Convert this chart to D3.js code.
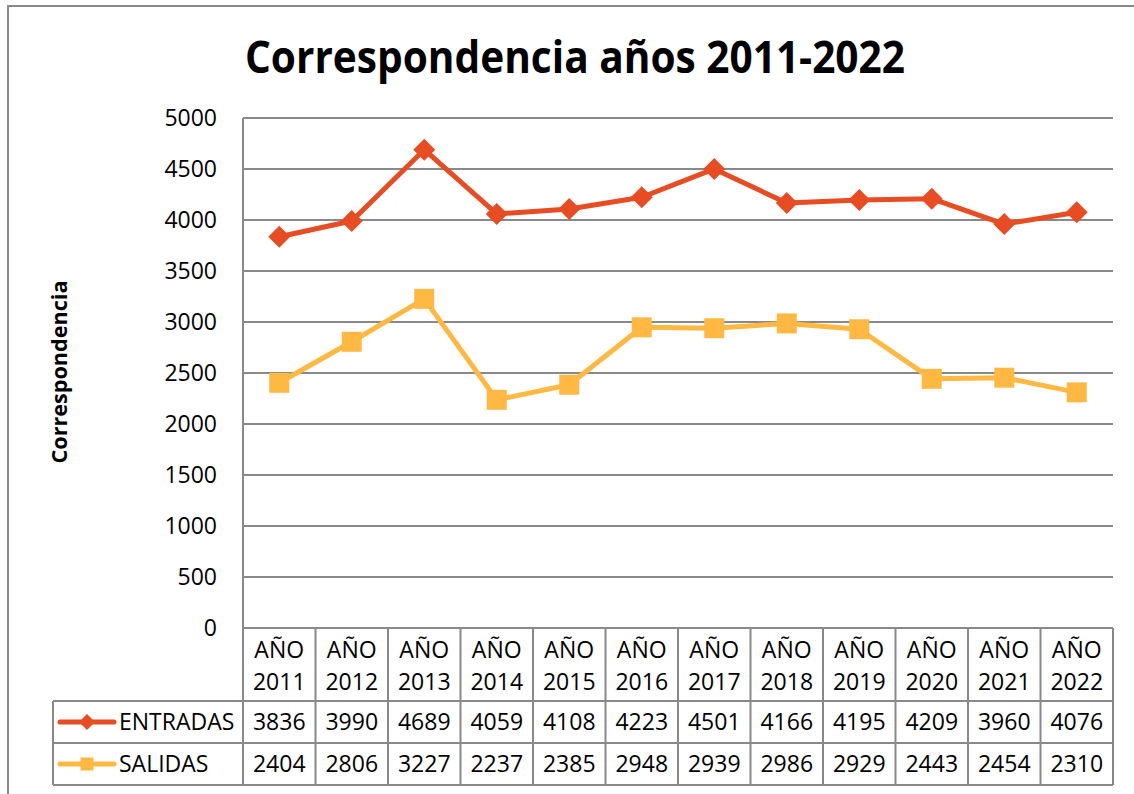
<!doctype html>
<html lang="es">
<head>
  <meta charset="utf-8">
  <style>
    body { margin: 0; background: #fff; }
    svg text { font-family: "Open Sans", "Noto Sans", sans-serif; fill: #000; }
  </style>
</head>
<body>
  <script src="https://d3js.org/d3.v7.min.js"></script>
  <div id="chart"></div>
  <script>
    // data
    var years = ["2011", "2012", "2013", "2014", "2015", "2016", "2017", "2018", "2019", "2020", "2021", "2022"];
    var entradas = [3836, 3990, 4689, 4059, 4108, 4223, 4501, 4166, 4195, 4209, 3960, 4076];
    var salidas = [2404, 2806, 3227, 2237, 2385, 2948, 2939, 2986, 2929, 2443, 2454, 2310];
    var yTicks = [0, 500, 1000, 1500, 2000, 2500, 3000, 3500, 4000, 4500, 5000];

    var series = [
      { name: "ENTRADAS", values: entradas, color: "#E84C22", marker: "diamond" },
      { name: "SALIDAS", values: salidas, color: "#FFB942", marker: "square" }
    ];

    var width = 1134, height = 794;
    var plotLeft = 243, plotRight = 1113, plotTop = 118, plotBottom = 628;
    var headerBottom = 701, rowH = 42, legendLeft = 53;
    var gridColor = "#898989";
    var fontSize = "23px";

    var svg = d3.select("#chart").append("svg")
      .attr("width", width)
      .attr("height", height);

    // outer chart border
    svg.append("rect")
      .attr("x", 8).attr("y", 6)
      .attr("width", 1140).attr("height", 800)
      .attr("fill", "none")
      .attr("stroke", gridColor)
      .attr("stroke-width", 2);

    var x = d3.scaleBand().domain(years).range([plotLeft, plotRight]);
    var y = d3.scaleLinear().domain([0, 5000]).range([plotBottom, plotTop]);

    // title
    svg.append("text")
      .attr("x", 575).attr("y", 73)
      .attr("text-anchor", "middle")
      .attr("textLength", 660)
      .attr("lengthAdjust", "spacingAndGlyphs")
      .style("font-size", "45px")
      .style("font-weight", "bold")
      .text("Correspondencia años 2011-2022");

    // y axis title
    svg.append("text")
      .attr("transform", "translate(67," + 372 + ") rotate(-90)")
      .attr("text-anchor", "middle")
      .attr("textLength", 183)
      .attr("lengthAdjust", "spacingAndGlyphs")
      .style("font-size", "21px")
      .style("font-weight", "bold")
      .text("Correspondencia");

    // gridlines
    svg.append("g").selectAll("line").data(yTicks).enter()
      .append("line")
      .attr("x1", plotLeft).attr("x2", plotRight)
      .attr("y1", d => y(d)).attr("y2", d => y(d))
      .attr("stroke", gridColor).attr("stroke-width", 2);

    // y tick labels
    svg.append("g").selectAll("text").data(yTicks).enter()
      .append("text")
      .attr("x", 217).attr("y", d => y(d) + 8)
      .attr("text-anchor", "end")
      .style("font-size", fontSize)
      .text(d => d);

    // data table grid
    var tableBottom = headerBottom + rowH * 2;
    var grid = svg.append("g").attr("stroke", gridColor).attr("stroke-width", 2);
    grid.append("line").attr("x1", plotLeft).attr("x2", plotLeft)
      .attr("y1", plotTop).attr("y2", tableBottom);
    grid.selectAll(".col").data(years).enter()
      .append("line")
      .attr("x1", d => x(d) + x.bandwidth()).attr("x2", d => x(d) + x.bandwidth())
      .attr("y1", plotBottom).attr("y2", tableBottom);
    [0, 1, 2].forEach(function (i) {
      grid.append("line")
        .attr("x1", legendLeft).attr("x2", plotRight)
        .attr("y1", headerBottom + rowH * i).attr("y2", headerBottom + rowH * i);
    });
    grid.append("line").attr("x1", legendLeft).attr("x2", legendLeft)
      .attr("y1", headerBottom).attr("y2", tableBottom);

    // category header
    var head = svg.append("g").selectAll("g").data(years).enter().append("g");
    head.append("text")
      .attr("x", d => x(d) + x.bandwidth() / 2).attr("y", 658)
      .attr("text-anchor", "middle").style("font-size", fontSize)
      .text("AÑO");
    head.append("text")
      .attr("x", d => x(d) + x.bandwidth() / 2).attr("y", 690)
      .attr("text-anchor", "middle").style("font-size", fontSize)
      .text(d => d);

    function markerPath(type, s) {
      if (type === "diamond") return "M0," + (-s) + "L" + s + ",0L0," + s + "L" + (-s) + ",0Z";
      return "M" + (-s) + "," + (-s) + "H" + s + "V" + s + "H" + (-s) + "Z";
    }

    var line = d3.line()
      .x((d, i) => x(years[i]) + x.bandwidth() / 2)
      .y(d => y(d));

    series.forEach(function (s, k) {
      // line and markers
      svg.append("path")
        .datum(s.values)
        .attr("d", line)
        .attr("fill", "none")
        .attr("stroke", s.color)
        .attr("stroke-width", 5)
        .attr("stroke-linejoin", "round");
      svg.append("g").selectAll("path").data(s.values).enter()
        .append("path")
        .attr("transform", (d, i) => "translate(" + (x(years[i]) + x.bandwidth() / 2) + "," + y(d) + ")")
        .attr("d", markerPath(s.marker, s.marker === "diamond" ? 11 : 10))
        .attr("fill", s.color);

      // table row
      var rowY = headerBottom + rowH * k + rowH / 2;
      svg.append("line")
        .attr("x1", 60).attr("x2", 114)
        .attr("y1", rowY).attr("y2", rowY)
        .attr("stroke", s.color).attr("stroke-width", 5)
        .attr("stroke-linecap", "round");
      svg.append("path")
        .attr("transform", "translate(87," + rowY + ")")
        .attr("d", markerPath(s.marker, s.marker === "diamond" ? 8 : 6.5))
        .attr("fill", s.color);
      svg.append("text")
        .attr("x", 119).attr("y", rowY + 8)
        .style("font-size", fontSize)
        .text(s.name);
      svg.append("g").selectAll("text").data(s.values).enter()
        .append("text")
        .attr("x", (d, i) => x(years[i]) + x.bandwidth() / 2)
        .attr("y", rowY + 8)
        .attr("text-anchor", "middle")
        .style("font-size", fontSize)
        .text(d => d);
    });
  </script>
</body>
</html>
